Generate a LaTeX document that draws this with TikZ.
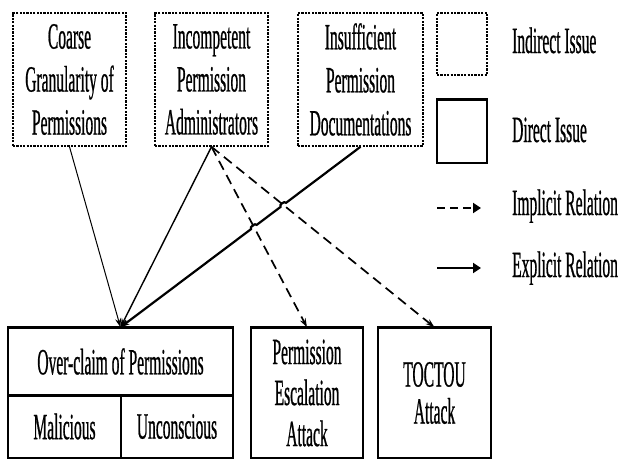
\documentclass[tikz,border=0pt]{standalone}
\usepackage{fontspec}
\setmainfont{Liberation Serif}[FakeStretch=0.42, FakeBold=0.6]
\usetikzlibrary{arrows.meta,calc,intersections}
\tikzset{
  txt/.style={font=\fontsize{37}{43}\selectfont, align=center, inner sep=0pt},
  indirect/.style={txt, draw, line width=1.6pt, dash pattern=on 2.2pt off 1.2pt, minimum height=133pt, anchor=center},
  direct/.style={txt, draw, line width=1.4pt, anchor=center},
  lbl/.style={font=\fontsize{37}{43}\selectfont, inner sep=0pt, anchor=base west},
  tip/.style={-{Stealth[length=9pt,width=6pt]}},
  thinrel/.style={tip, line width=1pt},
  midrel/.style={tip, line width=1.4pt},
  strongrel/.style={tip, line width=2.2pt},
  implicitrel/.style={tip, line width=1.7pt, dash pattern=on 10pt off 6pt},
  topline/.style={line width=2.8pt}
}
\begin{document}
\begin{tikzpicture}[x=1pt,y=-1pt]
\useasboundingbox (0,0) rectangle (618,460);
% top indirect issues
\node[indirect, minimum width=113pt] (c1) at (69.5,79.5) {Coarse\\Granularity of\\Permissions};
\node[indirect, minimum width=113pt] (c2) at (211.5,79.5) {Incompetent\\Permission\\Administrators};
\node[indirect, minimum width=125pt] (c3) at (360.5,79.5) {Insufficient\\Permission\\Documentations};
% legend
\node[indirect, minimum width=50pt, minimum height=62pt] (l1) at (462,44) {};
\node[direct, minimum width=50pt, minimum height=63pt] (l2) at (462,131.5) {};
\draw[topline] (l2.north west) -- (l2.north east);
\node[lbl] (t1) at (512,53) {Indirect Issue};
\node[lbl] (t2) at (512,142) {Direct Issue};
\coordinate (ia) at (437,208);
\coordinate (ib) at (481,208);
\coordinate (ea) at (437,268);
\coordinate (eb) at (481,268);
\draw[line width=2.6pt, dash pattern=on 8pt off 5pt, -{Triangle[length=8pt,width=10pt]}] (ia) -- (ib);
\draw[line width=2.8pt, -{Triangle[length=8pt,width=10pt]}] (ea) -- (eb);
\node[lbl] (t3) at (512,215) {Implicit Relation};
\node[lbl] (t4) at (512,277) {Explicit Relation};
% bottom direct issues
\node[direct, minimum width=225pt, minimum height=67pt] (oc) at (120.5,361.5) {Over-claim of Permissions};
\node[direct, minimum width=113pt, minimum height=63pt] (mal) at (64.5,426.5) {Malicious};
\node[direct, minimum width=112pt, minimum height=63pt] (unc) at (177,426.5) {Unconscious};
\node[direct, minimum width=112pt, minimum height=130pt, font=\fontsize{37}{41}\selectfont] (pe) at (307,393) {Permission\\Escalation\\Attack};
\node[direct, minimum width=113pt, minimum height=130pt, font=\fontsize{37}{37}\selectfont] (to) at (434.5,393) {TOCTOU\\Attack};
\draw[topline] (oc.north west) -- (oc.north east);
\draw[topline] (oc.south west) -- (oc.south east);
\draw[topline] (pe.north west) -- (pe.north east);
\draw[topline] (to.north west) -- (to.north east);
% relations
\draw[thinrel] (c1.south) -- (oc.north);
\draw[midrel] (c2.south) -- (oc.north);
\draw[implicitrel, name path=d1] (c2.south) -- (pe.north);
\draw[implicitrel, name path=d2] (c2.south) -- (to.north);
\path[name path=s3] (c3.south) -- (oc.north);
\path[name intersections={of=s3 and d1, by=x1}];
\path[name intersections={of=s3 and d2, by=x2}];
\draw[strongrel] (c3.south) -- ($(x2)!3.5pt!(c3.south)$) to[bend right=90] ($(x2)!3.5pt!(oc.north)$)
  -- ($(x1)!3.5pt!(c3.south)$) to[bend right=90] ($(x1)!3.5pt!(oc.north)$) -- (oc.north);
\end{tikzpicture}
\end{document}
